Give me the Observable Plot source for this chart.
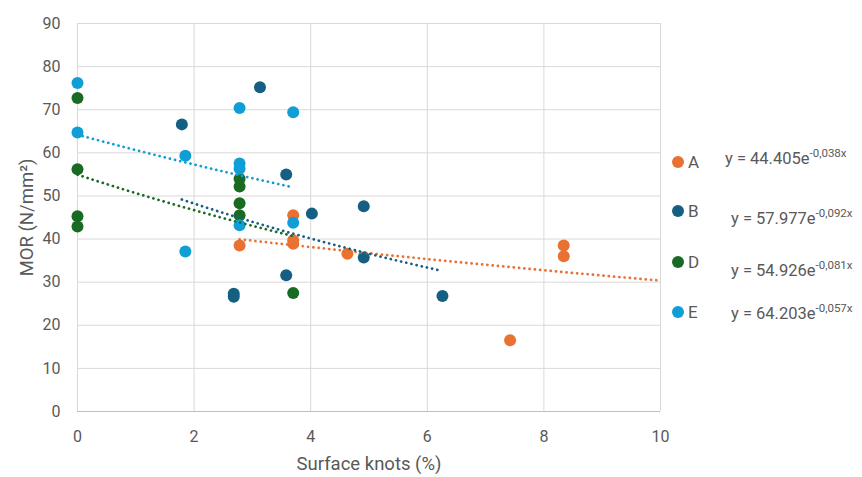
<!DOCTYPE html>
<html>
<head>
<meta charset="utf-8">
<script src="https://cdn.jsdelivr.net/npm/d3@7"></script>
<script src="https://cdn.jsdelivr.net/npm/@observablehq/plot@0.6"></script>
<style>
  html, body { margin: 0; padding: 0; background: #fff; }
  #wrap { position: relative; width: 862px; height: 477px; font-family: Roboto, "Open Sans", sans-serif; color: #595959; overflow: hidden; }
  .leg { position: absolute; white-space: nowrap; }
  .leg .dot { display: inline-block; width: 12px; height: 12px; border-radius: 50%; vertical-align: middle; margin-right: 4px; }
  .leg .name { font-size: 17px; vertical-align: middle; }
  .eq { position: absolute; font-size: 16.5px; white-space: nowrap; }
  .eq sup { font-size: 11.5px; }
</style>
</head>
<body>
<div id="wrap"></div>
<script>
// ---- data ----
const series = ["A", "B", "D", "E"];
const colors = ["#E97132", "#156082", "#196B24", "#0F9ED5"];

const aX = [2.78, 3.70, 3.70, 3.70, 4.63, 7.42, 8.34, 8.34];
const aY = [38.5, 45.5, 39.7, 38.9, 36.6, 16.5, 38.5, 36.0];

const bX = [1.79, 3.13, 2.68, 2.68, 3.58, 3.58, 4.02, 4.91, 4.91, 6.26];
const bY = [66.6, 75.2, 27.3, 26.6, 55.0, 31.6, 45.9, 47.6, 35.7, 26.8];

const dX = [0, 0, 0, 0, 2.78, 2.78, 2.78, 2.78, 3.70];
const dY = [72.7, 56.2, 45.3, 42.9, 54.0, 52.2, 48.3, 45.5, 27.5];

const eX = [0, 0, 1.85, 1.85, 2.78, 2.78, 2.78, 2.78, 3.70, 3.70];
const eY = [76.2, 64.7, 59.3, 37.1, 70.4, 57.5, 56.3, 43.2, 69.4, 43.8];

// exponential trendlines y = a * e^(b x), as printed on the chart
const trendA = [44.405, 57.977, 54.926, 64.203];
const trendB = [-0.038, -0.092, -0.081, -0.057];
const trendLabelsA = ["44.405", "57.977", "54.926", "64.203"];
const trendLabelsB = ["-0,038x", "-0,092x", "-0,081x", "-0,057x"];
const trendFrom = [2.78, 1.79, 0, 0];
const trendTo = [10, 6.2, 3.70, 3.70];

const xTicks = [0, 2, 4, 6, 8, 10];
const yTicks = [0, 10, 20, 30, 40, 50, 60, 70, 80, 90];

// ---- build tables ----
const xs = [aX, bX, dX, eX], ys = [aY, bY, dY, eY];
const pts = [];
series.forEach((s, i) => xs[i].forEach((x, j) => pts.push({s, x, y: ys[i][j]})));
const trend = [];
series.forEach((s, i) => {
  const n = 60;
  for (let k = 0; k <= n; k++) {
    const x = trendFrom[i] + (trendTo[i] - trendFrom[i]) * k / n;
    trend.push({s, x, y: trendA[i] * Math.exp(trendB[i] * x)});
  }
});

const chart = Plot.plot({
  width: 862,
  height: 477,
  marginLeft: 77,
  marginRight: 202,
  marginTop: 23,
  marginBottom: 66,
  style: {fontFamily: "Roboto, 'Open Sans', sans-serif", fontSize: "16px", color: "#595959", background: "#fff"},
  x: {domain: [0, 10]},
  y: {domain: [0, 90]},
  color: {domain: series, range: colors},
  marks: [
    Plot.gridX(xTicks, {stroke: "#d9d9d9", strokeOpacity: 1, strokeWidth: 1}),
    Plot.gridY(yTicks, {stroke: "#d9d9d9", strokeOpacity: 1, strokeWidth: 1}),
    Plot.ruleY([0], {stroke: "#bfbfbf"}),
    Plot.axisX(xTicks, {tickSize: 0, tickPadding: 19, label: "Surface knots (%)", labelAnchor: "center", labelOffset: 58, labelArrow: "none", fontSize: 16}),
    Plot.axisY(yTicks, {tickSize: 0, tickPadding: 17, label: "MOR (N/mm²)", labelAnchor: "center", labelOffset: 58, labelArrow: "none", fontSize: 16}),
    Plot.dot(pts, {x: "x", y: "y", fill: "s", r: 6, stroke: null}),
    Plot.line(trend, {x: "x", y: "y", z: "s", stroke: "s", strokeWidth: 2.7, strokeDasharray: "0.1 5.2", strokeLinecap: "round"})
  ]
});
chart.querySelectorAll("g[aria-label='x-axis label'] text, g[aria-label='y-axis label'] text").forEach(t => t.setAttribute("font-size", "18.5"));

const wrap = document.getElementById("wrap");
wrap.appendChild(chart);

// legend + equations
const legTop = [151, 200, 251, 301];
const eqPos = [[725, 146], [731, 206], [731, 258], [731, 301]];
series.forEach((s, i) => {
  const d = document.createElement("div");
  d.className = "leg";
  d.style.left = "672px";
  d.style.top = legTop[i] + "px";
  d.innerHTML = `<span class="dot" style="background:${colors[i]}"></span><span class="name">${s}</span>`;
  wrap.appendChild(d);
  const e = document.createElement("div");
  e.className = "eq";
  e.style.left = eqPos[i][0] + "px";
  e.style.top = eqPos[i][1] + "px";
  e.innerHTML = `y = ${trendLabelsA[i]}e<sup>${trendLabelsB[i]}</sup>`;
  wrap.appendChild(e);
});
</script>
</body>
</html>
